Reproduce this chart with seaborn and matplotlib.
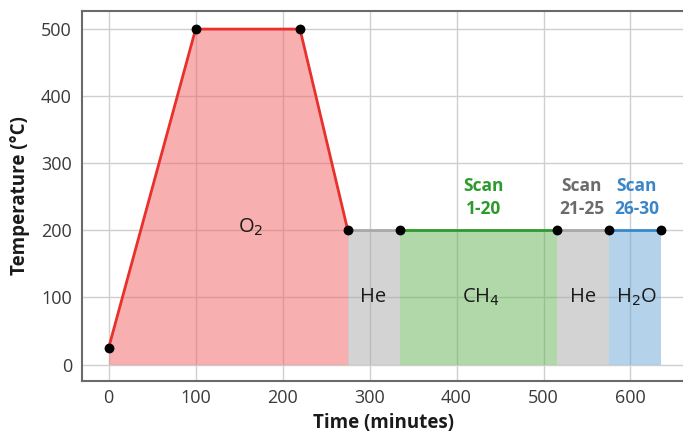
import matplotlib
matplotlib.use("Agg")
import matplotlib.pyplot as plt
import seaborn as sns
import pandas as pd

# ---- data ----
times = [0, 100, 220, 275, 335, 515, 575, 635]
temps = [25, 500, 500, 200, 200, 200, 200, 200]
phase_names = ["O$_2$", "He", "CH$_4$", "He", "H$_2$O"]
phase_bounds = [(0, 3), (3, 4), (4, 5), (5, 6), (6, 7)]  # index ranges in times
phase_label_pos = [(163, 205), (304, 100), (428, 100), (545, 100), (607, 100)]
scan_labels = ["Scan\n1-20", "Scan\n21-25", "Scan\n26-30"]
scan_label_x = [431, 544, 607]
scan_label_y = [249, 249, 249]
xticks = [0, 100, 200, 300, 400, 500, 600]
yticks = [0, 100, 200, 300, 400, 500]

line_colors = ["#e8302c", "#a8a8a8", "#2e9a2e", "#a8a8a8", "#3a88cc"]
fill_colors = ["#f36161", "#a9a9a9", "#65b353", "#a9a9a9", "#6ba7d5"]
scan_colors = ["#2e9a2e", "#6b6b6b", "#3a86c8"]

sns.set_theme(style="white")
plt.rcParams["font.family"] = ["Open Sans", "DejaVu Sans"]

fig = plt.figure(figsize=(6.83, 4.34), dpi=100)
ax = fig.add_axes([0.1196, 0.1228, 0.885, 0.8519])

df = pd.DataFrame({"time": times, "temp": temps})

# fills
for (i0, i1), fc in zip(phase_bounds, fill_colors):
    seg = df.iloc[i0:i1 + 1]
    ax.fill_between(seg["time"], 0, seg["temp"], color=fc, alpha=0.5, lw=0, zorder=1)

# lines
for (i0, i1), lc in zip(phase_bounds, line_colors):
    seg = df.iloc[i0:i1 + 1]
    sns.lineplot(data=seg, x="time", y="temp", color=lc, lw=2, ax=ax,
                 estimator=None, sort=False, zorder=3)

# points
sns.scatterplot(data=df, x="time", y="temp", color="black", s=50, ax=ax,
                zorder=4, edgecolor="black", linewidth=0)

# phase labels
for name, (px, py) in zip(phase_names, phase_label_pos):
    ax.text(px, py, name, ha="center", va="center", fontsize=14.5,
            color="#1a1a1a", zorder=5)

# scan labels
for lab, sx, sy, sc in zip(scan_labels, scan_label_x, scan_label_y, scan_colors):
    ax.text(sx, sy, lab, ha="center", va="center", fontsize=12.5,
            fontweight="bold", color=sc, linespacing=1.4, zorder=5)

ax.set_xlim(-31, 664)
ax.set_ylim(-24, 527)
ax.set_xticks(xticks)
ax.set_yticks(yticks)
ax.grid(True, color="#cfcfcf", lw=1.0, zorder=0)
ax.set_axisbelow(True)

ax.tick_params(axis="both", direction="in", length=4, width=1.5, color="black",
               labelsize=13, labelcolor="#3a3a3a")
ax.tick_params(axis="x", pad=6)
ax.tick_params(axis="y", pad=7)
for sp in ["left", "bottom", "top"]:
    ax.spines[sp].set_color("#6a6a6a")
    ax.spines[sp].set_linewidth(1.5)
ax.spines["right"].set_visible(False)

ax.set_xlabel("Time (minutes)", fontsize=13.5, fontweight="bold", color="#1a1a1a", labelpad=4)
ax.set_ylabel("Temperature (°C)", fontsize=13.5, fontweight="bold", color="#1a1a1a", labelpad=8)

fig.savefig("out.png", dpi=100)
